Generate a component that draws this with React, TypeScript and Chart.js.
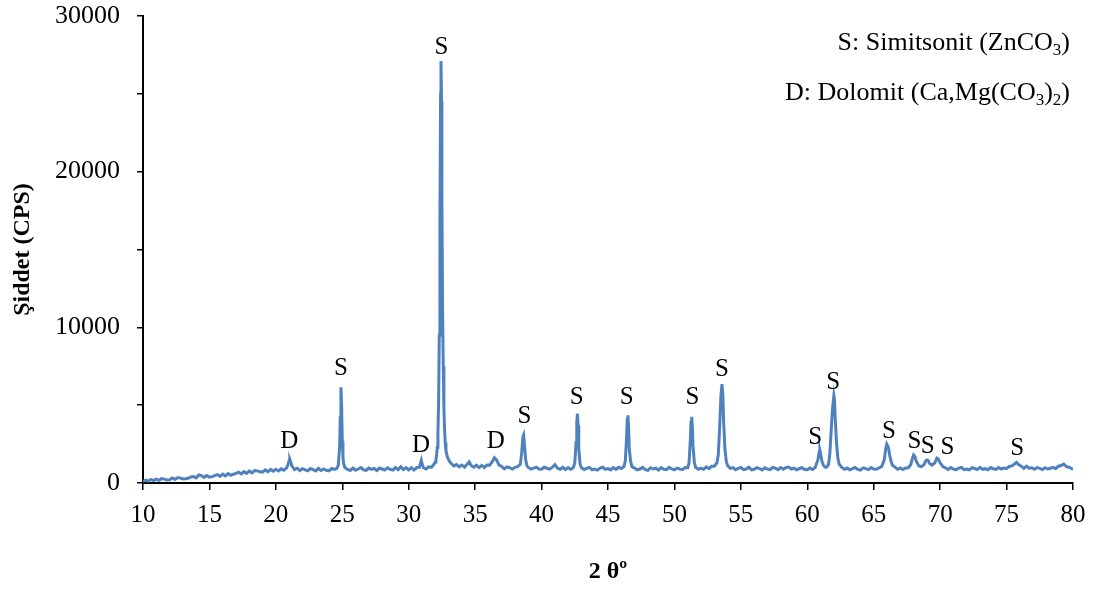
import React, { useEffect, useRef } from "react";
import { Chart, registerables } from "chart.js";

Chart.register(...registerables);

const FONT = '"Liberation Serif", "Times New Roman", serif';
const LINE_COLOR = "#4F81BD";

// 2θ (degrees), intensity (CPS) pairs
const scan10to20: [number, number][] = [
  [10.0, 100], [10.2, 190], [10.4, 120], [10.6, 230], [10.8, 150], [11.0, 240], [11.2, 170], [11.4, 280],
  [11.6, 250], [11.8, 190], [12.0, 210], [12.2, 320], [12.4, 230], [12.6, 340], [12.8, 330], [13.0, 260],
  [13.2, 270], [13.4, 300], [13.6, 390], [13.8, 410], [14.0, 330], [14.2, 520], [14.4, 480], [14.6, 360],
  [14.8, 480], [15.0, 380], [15.2, 410], [15.4, 480], [15.6, 540], [15.8, 430], [16.0, 570], [16.2, 460],
  [16.4, 610], [16.6, 500], [16.8, 560], [17.0, 620], [17.2, 690], [17.4, 580], [17.6, 730], [17.8, 620],
  [18.0, 770], [18.2, 650], [18.4, 800], [18.6, 780], [18.8, 720], [19.0, 700], [19.2, 840], [19.4, 720],
  [19.6, 870], [19.8, 760],
];

const scan20to30: [number, number][] = [
  [20.0, 880], [20.2, 770], [20.4, 910], [20.6, 820], [20.8, 960], [20.9, 1150], [21.0, 1450], [21.05, 1520],
  [21.1, 1400], [21.2, 1100], [21.3, 980], [21.4, 860], [21.6, 950], [21.8, 800], [22.0, 920], [22.2, 850],
  [22.4, 780], [22.6, 930], [22.8, 860], [23.0, 780], [23.2, 940], [23.4, 800], [23.6, 900], [23.8, 820],
  [24.0, 780], [24.2, 930], [24.4, 880], [24.6, 940], [24.7, 1150], [24.8, 2300], [24.85, 4200], [24.9, 6150],
  [24.95, 4900], [25.0, 2700], [25.05, 1700], [25.1, 1250], [25.2, 980], [25.4, 880], [25.6, 800], [25.8, 960],
  [26.0, 820], [26.2, 900], [26.4, 990], [26.6, 850], [26.8, 810], [27.0, 960], [27.2, 880], [27.4, 930],
  [27.6, 800], [27.8, 960], [28.0, 900], [28.2, 830], [28.4, 970], [28.6, 880], [28.8, 830], [29.0, 990],
  [29.2, 850], [29.4, 1050], [29.6, 860], [29.8, 980],
];

const scan30to40: [number, number][] = [
  [30.0, 840], [30.2, 980], [30.4, 830], [30.6, 990], [30.8, 1000], [30.9, 1300], [30.95, 1450], [31.0, 1250],
  [31.1, 980], [31.3, 900], [31.5, 1040], [31.7, 1000], [31.9, 1200], [32.0, 1350], [32.05, 1500], [32.1, 1800],
  [32.15, 2300], [32.2, 3200], [32.25, 5200], [32.3, 9500], [32.35, 17000], [32.4, 25000], [32.43, 27100],
  [32.47, 24500], [32.5, 18000], [32.55, 11000], [32.6, 7500], [32.65, 4800], [32.7, 3400], [32.75, 2600],
  [32.8, 2100], [32.9, 1700], [33.0, 1500], [33.1, 1350], [33.2, 1250], [33.4, 1100], [33.6, 1180], [33.8, 1040],
  [34.0, 1150], [34.2, 1020], [34.4, 1200], [34.55, 1350], [34.7, 1120], [34.9, 1010], [35.1, 1140], [35.3, 990],
  [35.5, 1130], [35.7, 1000], [35.9, 1160], [36.1, 1150], [36.3, 1380], [36.45, 1620], [36.6, 1500], [36.8, 1150],
  [37.0, 1060], [37.2, 910], [37.4, 1040], [37.6, 980], [37.8, 900], [38.0, 1010], [38.2, 1050], [38.4, 1200],
  [38.5, 1900], [38.6, 3000], [38.65, 3100], [38.7, 2600], [38.8, 1500], [38.9, 1100], [39.0, 1000], [39.2, 890],
  [39.4, 960], [39.6, 1020], [39.8, 900],
];

const scan40to50: [number, number][] = [
  [40.0, 880], [40.2, 1010], [40.4, 950], [40.6, 890], [40.8, 1000], [41.0, 1180], [41.2, 950], [41.4, 880],
  [41.6, 1010], [41.8, 860], [42.0, 990], [42.2, 870], [42.4, 1000], [42.5, 1300], [42.6, 2600], [42.65, 3900],
  [42.7, 4450], [42.75, 3700], [42.8, 2200], [42.9, 1200], [43.0, 980], [43.2, 870], [43.4, 940], [43.6, 1000],
  [43.8, 850], [44.0, 900], [44.2, 830], [44.4, 960], [44.6, 1010], [44.8, 870], [45.0, 920], [45.2, 840],
  [45.4, 990], [45.6, 880], [45.8, 1010], [46.0, 930], [46.2, 1050], [46.3, 1400], [46.4, 2900], [46.45, 4100],
  [46.5, 4350], [46.55, 3600], [46.6, 2200], [46.7, 1400], [46.8, 1050], [47.0, 960], [47.2, 850], [47.4, 900],
  [47.6, 1000], [47.8, 860], [48.0, 820], [48.2, 980], [48.4, 900], [48.6, 950], [48.8, 830], [49.0, 990],
  [49.2, 880], [49.4, 860], [49.6, 1000], [49.8, 900],
];

const scan50to60: [number, number][] = [
  [50.0, 840], [50.2, 960], [50.4, 900], [50.6, 860], [50.8, 990], [51.0, 980], [51.1, 1300], [51.2, 2800],
  [51.25, 3900], [51.3, 4250], [51.35, 3600], [51.4, 2400], [51.5, 1300], [51.6, 1000], [51.8, 880], [52.0, 960],
  [52.2, 880], [52.4, 1030], [52.6, 920], [52.8, 1080], [53.0, 1080], [53.2, 1300], [53.3, 1800], [53.4, 3500],
  [53.5, 5600], [53.58, 6350], [53.65, 5600], [53.7, 4000], [53.8, 2200], [53.9, 1400], [54.0, 1120], [54.2, 940],
  [54.4, 990], [54.6, 850], [54.8, 940], [55.0, 1000], [55.2, 860], [55.4, 900], [55.6, 1010], [55.8, 840],
  [56.0, 880], [56.2, 990], [56.4, 930], [56.6, 840], [56.8, 980], [57.0, 900], [57.2, 860], [57.4, 1000],
  [57.6, 950], [57.8, 850], [58.0, 990], [58.2, 880], [58.4, 1000], [58.6, 1030], [58.8, 900], [59.0, 950],
  [59.2, 850], [59.4, 930], [59.6, 980], [59.8, 870],
];

const scan60to70: [number, number][] = [
  [60.0, 860], [60.2, 960], [60.4, 870], [60.6, 1000], [60.8, 1500], [60.9, 2000], [60.95, 2100], [61.0, 1900],
  [61.1, 1400], [61.2, 1150], [61.3, 1050], [61.4, 1000], [61.5, 1050], [61.6, 1200], [61.7, 1900], [61.8, 3400],
  [61.9, 4800], [62.0, 5600], [62.05, 5300], [62.1, 4200], [62.2, 2600], [62.3, 1600], [62.4, 1200], [62.6, 1000],
  [62.8, 880], [63.0, 960], [63.2, 850], [63.4, 920], [63.6, 1000], [63.8, 870], [64.0, 830], [64.2, 970],
  [64.4, 920], [64.6, 860], [64.8, 990], [65.0, 900], [65.2, 880], [65.4, 980], [65.6, 1050], [65.8, 1500],
  [65.9, 2200], [65.98, 2500], [66.1, 2300], [66.2, 1800], [66.3, 1400], [66.4, 1150], [66.6, 1020], [66.8, 880],
  [67.0, 960], [67.2, 860], [67.4, 970], [67.6, 980], [67.8, 1200], [67.9, 1550], [68.0, 1800], [68.1, 1700],
  [68.2, 1400], [68.4, 1100], [68.6, 1050], [68.8, 1200], [68.9, 1400], [69.0, 1480], [69.1, 1450], [69.2, 1250],
  [69.4, 1150], [69.6, 1300], [69.75, 1600], [69.85, 1550],
];

const scan70to80: [number, number][] = [
  [70.0, 1300], [70.2, 1050], [70.4, 980], [70.6, 870], [70.8, 990], [71.0, 900], [71.2, 850], [71.4, 960],
  [71.6, 1000], [71.8, 860], [72.0, 900], [72.2, 840], [72.4, 980], [72.6, 930], [72.8, 860], [73.0, 1000],
  [73.2, 880], [73.4, 920], [73.6, 850], [73.8, 990], [74.0, 910], [74.2, 870], [74.4, 1000], [74.6, 900],
  [74.8, 960], [75.0, 940], [75.2, 1060], [75.4, 1100], [75.6, 1220], [75.75, 1330], [75.9, 1180], [76.1, 1080],
  [76.3, 940], [76.5, 1080], [76.7, 950], [76.9, 980], [77.1, 880], [77.3, 990], [77.5, 940], [77.7, 860],
  [77.9, 980], [78.1, 900], [78.3, 950], [78.5, 1000], [78.7, 920], [78.9, 1080], [79.1, 1120], [79.3, 1220],
  [79.5, 1050], [79.7, 1010], [79.9, 920], [80.0, 900],
];

// Peak annotations (2θ position, intensity at label centre, text)
const peakLabelX = [21.01, 24.9, 30.93, 32.47, 36.56, 38.72, 42.64, 46.4, 51.35, 53.57, 60.6, 61.95, 66.15, 68.06, 69.07, 70.55, 75.8];
const peakLabelY = [2650, 7380, 2400, 28000, 2650, 4260, 5500, 5500, 5500, 7270, 2910, 6480, 3290, 2640, 2360, 2300, 2250];
const peakLabelText = ["D", "S", "D", "S", "D", "S", "S", "S", "S", "S", "S", "S", "S", "S", "S", "S", "S"];

// Phase key (segments: text, subscript?)
const keyLine1: [string, boolean][] = [["S: Simitsonit (ZnCO", false], ["3", true], [")", false]];
const keyLine2: [string, boolean][] = [["D: Dolomit (Ca,Mg(CO", false], ["3", true], [")", false], ["2", true], [")", false]];

const xTitle = "2 θº";
const yTitle = "Şiddet (CPS)";

const X_MIN = 10, X_MAX = 80, X_STEP = 5;
const Y_MIN = 0, Y_MAX = 30000, Y_STEP = 5000, Y_LABEL_STEP = 10000;

function drawRich(ctx: CanvasRenderingContext2D, segs: [string, boolean][], rightX: number, baseline: number) {
  const main = `26px ${FONT}`;
  const sub = `17px ${FONT}`;
  let total = 0;
  for (const [t, s] of segs) {
    ctx.font = s ? sub : main;
    total += ctx.measureText(t).width;
  }
  let x = rightX - total;
  ctx.textAlign = "left";
  ctx.textBaseline = "alphabetic";
  for (const [t, s] of segs) {
    ctx.font = s ? sub : main;
    ctx.fillText(t, x, s ? baseline + 5 : baseline);
    x += ctx.measureText(t).width;
  }
}

const annotationPlugin = {
  id: "xrdAnnotations",
  afterDraw(chart: any) {
    const { ctx, scales, chartArea } = chart;
    const xs = scales.x, ys = scales.y;
    ctx.save();
    ctx.fillStyle = "#000";
    ctx.font = `25px ${FONT}`;
    ctx.textAlign = "center";
    ctx.textBaseline = "middle";
    for (let i = 0; i < peakLabelX.length; i++) {
      ctx.fillText(peakLabelText[i], xs.getPixelForValue(peakLabelX[i]), ys.getPixelForValue(peakLabelY[i]));
    }
    drawRich(ctx, keyLine1, chartArea.right - 3, 50);
    drawRich(ctx, keyLine2, chartArea.right - 3, 100);
    ctx.font = `bold 24px ${FONT}`;
    ctx.textAlign = "center";
    ctx.textBaseline = "middle";
    ctx.fillText(xTitle, (chartArea.left + chartArea.right) / 2, 572);
    ctx.save();
    ctx.translate(23, (chartArea.top + chartArea.bottom) / 2);
    ctx.rotate(-Math.PI / 2);
    ctx.fillText(yTitle, 0, 0);
    ctx.restore();
    ctx.restore();
  },
};

export default function App() {
  const ref = useRef<HTMLCanvasElement>(null);
  useEffect(() => {
    document.body.style.margin = "0";
    const points = [...scan10to20, ...scan20to30, ...scan30to40, ...scan40to50, ...scan50to60, ...scan60to70, ...scan70to80].map(
      ([x, y]) => ({ x, y })
    );
    const chart = new Chart(ref.current!, {
      type: "scatter",
      data: {
        datasets: [
          {
            data: points,
            showLine: true,
            borderColor: LINE_COLOR,
            backgroundColor: LINE_COLOR,
            borderWidth: 3,
            pointRadius: 0,
            tension: 0,
          },
        ],
      },
      options: {
        responsive: false,
        animation: false,
        events: [],
        layout: { padding: { top: 16, right: 24, left: 0, bottom: 0 } },
        plugins: { legend: { display: false }, tooltip: { enabled: false } },
        scales: {
          x: {
            type: "linear",
            min: X_MIN,
            max: X_MAX,
            afterFit: (s: any) => {
              s.height = 107;
              s.paddingLeft = 0;
              s.paddingRight = 0;
            },
            ticks: {
              stepSize: X_STEP,
              color: "#000",
              font: { family: FONT, size: 25 },
              padding: 10,
              callback: (v: any) => String(v),
            },
            grid: { drawOnChartArea: false, drawTicks: true, tickLength: 7, color: "#000", lineWidth: 1.5 },
            border: { color: "#000", width: 2 },
          },
          y: {
            type: "linear",
            min: Y_MIN,
            max: Y_MAX,
            afterFit: (s: any) => {
              s.width = 143;
              s.paddingTop = 0;
              s.paddingBottom = 0;
            },
            ticks: {
              stepSize: Y_STEP,
              autoSkip: false,
              color: "#000",
              font: { family: FONT, size: 26 },
              padding: 17,
              callback: (v: any) => (Number(v) % Y_LABEL_STEP === 0 ? String(v) : ""),
            },
            grid: { drawOnChartArea: false, drawTicks: true, tickLength: 6, color: "#000", lineWidth: 1.5 },
            border: { color: "#000", width: 2 },
          },
        },
      },
      plugins: [annotationPlugin],
    } as any);
    return () => chart.destroy();
  }, []);
  return (
    <div style={{ width: 1097, height: 590 }}>
      <canvas ref={ref} width={1097} height={590} style={{ display: "block" }} />
    </div>
  );
}
